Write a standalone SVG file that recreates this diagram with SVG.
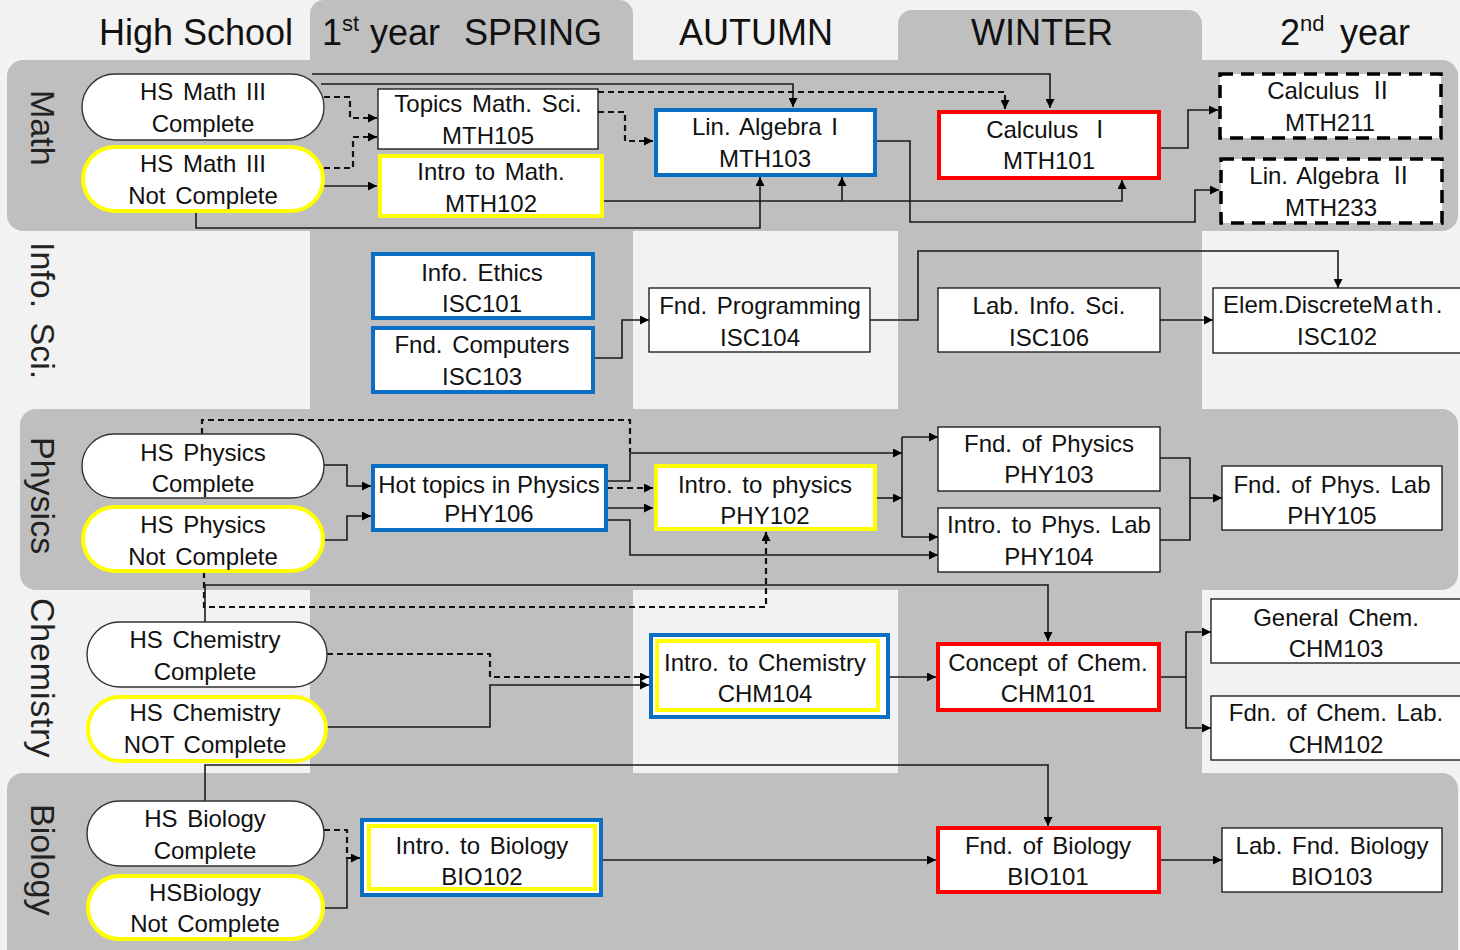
<svg xmlns="http://www.w3.org/2000/svg" width="1460" height="950" viewBox="0 0 1460 950">
<defs>
<style>
.band{fill:#bfbfbf}
.hdr{font-family:"Liberation Sans",Arial,sans-serif;font-size:36px;fill:#111}
.row{font-family:"Liberation Sans",Arial,sans-serif;font-size:34px;fill:#222}
.t{font-family:"Liberation Sans",Arial,"Noto Sans CJK JP",sans-serif;font-size:24px;fill:#111;text-anchor:middle;word-spacing:3px}
.t0{word-spacing:0}
.plain{fill:#fff;stroke:#111;stroke-width:1.3}
.hs{fill:#fff;stroke:#333;stroke-width:1.4}
.blue{fill:#fff;stroke:#0a6fc2;stroke-width:4}
.yel{fill:#fff;stroke:#ffff00;stroke-width:4}
.red{fill:#fff;stroke:#ff0000;stroke-width:4}
.dsh{fill:#fff;stroke:#000;stroke-width:3.5;stroke-dasharray:13 8}
.c{fill:none;stroke:#1a1a1a;stroke-width:1.6}
.d{fill:none;stroke:#111;stroke-width:2.2;stroke-dasharray:6 4}
</style>
<marker id="ah" viewBox="0 0 10 10" refX="10" refY="5" markerWidth="9" markerHeight="9" markerUnits="userSpaceOnUse" orient="auto">
<path d="M0,0 L10,5 L0,10 z" fill="#000"/>
</marker>
</defs>

<g id="background">
<rect x="0" y="0" width="1460" height="950" fill="#f2f2f2"/>
<rect class="band" x="310" y="0" width="323" height="970" rx="14"/>
<rect class="band" x="898" y="10" width="304" height="960" rx="14"/>
<rect class="band" x="7" y="60" width="1451" height="171" rx="16"/>
<rect class="band" x="20" y="409" width="1438" height="181" rx="16"/>
<rect class="band" x="7" y="773" width="1451" height="200" rx="16"/>
</g>

<g id="headers">
<text class="hdr" x="196" y="45" text-anchor="middle">High School</text>
<text class="hdr" x="322" y="45"><tspan>1</tspan><tspan font-size="22" dy="-14">st</tspan><tspan x="370" dy="14">year</tspan><tspan x="464">SPRING</tspan></text>
<text class="hdr" x="756" y="45" text-anchor="middle">AUTUMN</text>
<text class="hdr" x="1042" y="45" text-anchor="middle">WINTER</text>
<text class="hdr" x="1280" y="45"><tspan>2</tspan><tspan font-size="22" dy="-14">nd</tspan><tspan x="1340" dy="14">year</tspan></text>
</g>

<g id="row-labels">
<text class="row" transform="translate(31,90) rotate(90)">Math</text>
<text class="row" transform="translate(31,242) rotate(90)" word-spacing="5">Info. Sci.</text>
<text class="row" transform="translate(31,437) rotate(90)">Physics</text>
<text class="row" transform="translate(31,598) rotate(90)" letter-spacing="0.8">Chemistry</text>
<text class="row" transform="translate(31,804) rotate(90)">Biology</text>
</g>

<g id="connectors">
<!-- Math -->
<path class="c" d="M312 74 H1050 V108" marker-end="url(#ah)"/>
<path class="c" d="M321 84 H793 V107" marker-end="url(#ah)"/>
<path class="d" d="M324 97 H350 V118 H377" marker-end="url(#ah)"/>
<path class="d" d="M324 168 H353 V137 H377" marker-end="url(#ah)"/>
<path class="c" d="M324 186 H377" marker-end="url(#ah)"/>
<path class="d" d="M598 92 H1005 V109" marker-end="url(#ah)"/>
<path class="d" d="M598 112 H625 V141 H653" marker-end="url(#ah)"/>
<path class="c" d="M603 201 H1122 V180" marker-end="url(#ah)"/>
<path class="c" d="M842 201 V177" marker-end="url(#ah)"/>
<path class="c" d="M196 212 V228 H760 V177" marker-end="url(#ah)"/>
<path class="c" d="M876 141 H910 V222 H1195 V190 H1219" marker-end="url(#ah)"/>
<path class="c" d="M1160 148 H1188 V110 H1218" marker-end="url(#ah)"/>
<!-- Info Sci -->
<path class="c" d="M593 358 H622 V320 H649" marker-end="url(#ah)"/>
<path class="c" d="M870 320 H918 V251 H1338 V288" marker-end="url(#ah)"/>
<path class="c" d="M1160 320 H1213" marker-end="url(#ah)"/>
<!-- Physics -->
<path class="c" d="M324 465 H347 V486 H371" marker-end="url(#ah)"/>
<path class="c" d="M324 540 H347 V516 H371" marker-end="url(#ah)"/>
<path class="d" d="M202 434 V420 H630 V452"/>
<path class="c" d="M607 481 H630 V453 H902" marker-end="url(#ah)"/>
<path class="d" d="M607 488 H653" marker-end="url(#ah)"/>
<path class="c" d="M607 508 H653" marker-end="url(#ah)"/>
<path class="c" d="M607 520 H630 V555 H938" marker-end="url(#ah)"/>
<path class="c" d="M876 498 H902" marker-end="url(#ah)"/>
<path class="c" d="M902 437 V537"/>
<path class="c" d="M902 437 H938" marker-end="url(#ah)"/>
<path class="c" d="M902 537 H938" marker-end="url(#ah)"/>
<path class="c" d="M1160 458 H1190 V540 H1160"/>
<path class="c" d="M1190 498 H1222" marker-end="url(#ah)"/>
<path class="d" d="M204 572 V607 H766 V532" marker-end="url(#ah)"/>
<path class="c" d="M205 622 V585 H1048 V641" marker-end="url(#ah)"/>
<!-- Chemistry -->
<path class="d" d="M327 654 H490 V677 H649" marker-end="url(#ah)"/>
<path class="c" d="M327 727 H490 V685 H649" marker-end="url(#ah)"/>
<path class="c" d="M888 677 H936" marker-end="url(#ah)"/>
<path class="c" d="M1160 677 H1186 V632 H1211" marker-end="url(#ah)"/>
<path class="c" d="M1186 677 V728 H1211" marker-end="url(#ah)"/>
<path class="c" d="M205 801 V765 H1048 V826" marker-end="url(#ah)"/>
<!-- Biology -->
<path class="d" d="M324 830 H347 V858 H360" marker-end="url(#ah)"/>
<path class="c" d="M324 908 H347 V858"/>
<path class="c" d="M602 860 H936" marker-end="url(#ah)"/>
<path class="c" d="M1160 860 H1222" marker-end="url(#ah)"/>
</g>

<g id="hs-math-complete"><rect class="hs" x="82" y="74" width="242" height="66" rx="33"/>
<text class="t" x="203" y="99.5">HS Math III</text><text class="t" x="203" y="131.5">Complete</text></g>
<g id="hs-math-not"><rect class="yel" x="83" y="147" width="240" height="64" rx="32"/>
<text class="t" x="203" y="171.5">HS Math III</text><text class="t" x="203" y="203.5">Not Complete</text></g>
<g id="mth105"><rect class="plain" x="378" y="89" width="220" height="60"/>
<text class="t" x="488" y="112">Topics Math. Sci.</text><text class="t" x="488" y="143.5">MTH105</text></g>
<g id="mth102"><rect class="yel" x="380" y="156" width="222" height="60"/>
<text class="t" x="491" y="180">Intro to Math.</text><text class="t" x="491" y="211.5">MTH102</text></g>
<g id="mth103"><rect class="blue" x="656" y="110" width="219" height="65"/>
<text class="t" x="765" y="135">Lin. Algebra I</text><text class="t" x="765" y="167">MTH103</text></g>
<g id="mth101"><rect class="red" x="939" y="112" width="220" height="66"/>
<text class="t" x="1049" y="137.5">Calculus Ⅰ</text><text class="t" x="1049" y="169">MTH101</text></g>
<g id="mth211"><rect class="dsh" x="1220" y="74" width="221" height="64"/>
<text class="t" x="1330" y="98.5">Calculus Ⅱ</text><text class="t" x="1330" y="130.5">MTH211</text></g>
<g id="mth233"><rect class="dsh" x="1221" y="159" width="221" height="64"/>
<text class="t" x="1331" y="184">Lin. Algebra Ⅱ</text><text class="t" x="1331" y="216">MTH233</text></g>

<g id="isc101"><rect class="blue" x="373" y="254" width="220" height="64"/>
<text class="t" x="482" y="280.5">Info. Ethics</text><text class="t" x="482" y="311.5">ISC101</text></g>
<g id="isc103"><rect class="blue" x="373" y="328" width="220" height="64"/>
<text class="t" x="482" y="352.5">Fnd. Computers</text><text class="t" x="482" y="384.5">ISC103</text></g>
<g id="isc104"><rect class="plain" x="649" y="288" width="221" height="64"/>
<text class="t" x="760" y="313.5">Fnd. Programming</text><text class="t" x="760" y="345.5">ISC104</text></g>
<g id="isc106"><rect class="plain" x="938" y="288" width="222" height="64"/>
<text class="t" x="1049" y="313.5">Lab. Info. Sci.</text><text class="t" x="1049" y="345.5">ISC106</text></g>
<g id="isc102"><rect class="plain" x="1213" y="288" width="252" height="65"/>
<text class="t" x="1334" y="312.5">Elem.Discrete<tspan letter-spacing="2.5">Math.</tspan></text><text class="t" x="1337" y="345">ISC102</text></g>

<g id="hs-phys-complete"><rect class="hs" x="82" y="434" width="242" height="64" rx="32"/>
<text class="t" x="203" y="460.5">HS Physics</text><text class="t" x="203" y="491.5">Complete</text></g>
<g id="hs-phys-not"><rect class="yel" x="83" y="507" width="240" height="64" rx="32"/>
<text class="t" x="203" y="532.5">HS Physics</text><text class="t" x="203" y="564.5">Not Complete</text></g>
<g id="phy106"><rect class="blue" x="373" y="466" width="233" height="64"/>
<text class="t t0" x="489" y="492.5">Hot topics in Physics</text><text class="t" x="489" y="522">PHY106</text></g>
<g id="phy102"><rect class="yel" x="656" y="466" width="219" height="63"/>
<text class="t" x="765" y="492.5">Intro. to physics</text><text class="t" x="765" y="523.5">PHY102</text></g>
<g id="phy103"><rect class="plain" x="938" y="427" width="222" height="64"/>
<text class="t" x="1049" y="451.5">Fnd. of Physics</text><text class="t" x="1049" y="482.5">PHY103</text></g>
<g id="phy104"><rect class="plain" x="938" y="508" width="222" height="64"/>
<text class="t" x="1049" y="532.5">Intro. to Phys. Lab</text><text class="t" x="1049" y="564.5">PHY104</text></g>
<g id="phy105"><rect class="plain" x="1222" y="466" width="220" height="64"/>
<text class="t" x="1332" y="492.5">Fnd. of Phys. Lab</text><text class="t" x="1332" y="523.5">PHY105</text></g>

<g id="hs-chem-complete"><rect class="hs" x="87" y="622" width="240" height="65" rx="32.5"/>
<text class="t" x="205" y="647.5">HS Chemistry</text><text class="t" x="205" y="679.5">Complete</text></g>
<g id="hs-chem-not"><rect class="yel" x="88" y="697" width="238" height="64" rx="32"/>
<text class="t" x="205" y="720.5">HS Chemistry</text><text class="t" x="205" y="752.5">NOT Complete</text></g>
<g id="chm104"><rect class="blue" x="651" y="635" width="237" height="82"/><rect fill="none" stroke="#ffff00" stroke-width="4" x="657" y="641" width="221" height="69"/>
<text class="t" x="765" y="670.5">Intro. to Chemistry</text><text class="t" x="765" y="701.5">CHM104</text></g>
<g id="chm101"><rect class="red" x="938" y="644" width="221" height="66"/>
<text class="t" x="1048" y="670.5">Concept of Chem.</text><text class="t" x="1048" y="701.5">CHM101</text></g>
<g id="chm103"><rect class="plain" x="1211" y="599" width="254" height="64"/>
<text class="t" x="1336" y="625.5">General Chem.</text><text class="t" x="1336" y="656.5">CHM103</text></g>
<g id="chm102"><rect class="plain" x="1211" y="696" width="254" height="64"/>
<text class="t" x="1336" y="720.5">Fdn. of Chem. Lab.</text><text class="t" x="1336" y="752.5">CHM102</text></g>

<g id="hs-bio-complete"><rect class="hs" x="87" y="801" width="237" height="65" rx="32.5"/>
<text class="t" x="205" y="826.5">HS Biology</text><text class="t" x="205" y="858.5">Complete</text></g>
<g id="hs-bio-not"><rect class="yel" x="88" y="876" width="235" height="63" rx="31.5"/>
<text class="t" x="205" y="900.5">HSBiology</text><text class="t" x="205" y="931.5">Not Complete</text></g>
<g id="bio102"><rect class="blue" x="362" y="820" width="239" height="75"/><rect fill="none" stroke="#ffff00" stroke-width="4" x="369" y="826" width="226" height="63"/>
<text class="t" x="482" y="853.5">Intro. to Biology</text><text class="t" x="482" y="884.5">BIO102</text></g>
<g id="bio101"><rect class="red" x="938" y="828" width="221" height="64"/>
<text class="t" x="1048" y="853.5">Fnd. of Biology</text><text class="t" x="1048" y="884.5">BIO101</text></g>
<g id="bio103"><rect class="plain" x="1222" y="828" width="220" height="64"/>
<text class="t" x="1332" y="853.5">Lab. Fnd. Biology</text><text class="t" x="1332" y="884.5">BIO103</text></g>
</svg>
